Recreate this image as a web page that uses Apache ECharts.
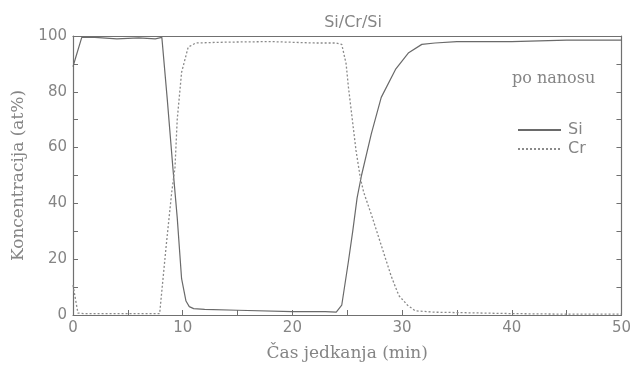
<!DOCTYPE html>
<html><head><meta charset="utf-8">
<script src="https://cdn.jsdelivr.net/npm/echarts@6/dist/echarts.min.js"></script>
<style>html,body{margin:0;padding:0;background:#fff}#c{width:634px;height:367px}</style>
</head><body><div id="c"></div>
<script>
const siTime = [0, 0.3, 0.8, 2, 4, 6, 7.5, 8.1, 8.6, 9.1, 9.5, 9.9, 10.3, 10.6, 11, 12, 15, 20, 23, 24, 24.5, 25.1, 25.5, 25.9, 26.3, 27.2, 28.1, 29.4, 30.6, 31.8, 33, 35, 40, 45, 50];
const siValue = [89, 93, 99.5, 99.5, 99, 99.3, 99, 99.5, 77, 53, 35, 13, 5, 3, 2.3, 2, 1.7, 1.2, 1.2, 1, 3.5, 19, 30, 42, 50, 65, 78, 88, 94, 97, 97.5, 98, 98, 98.5, 98.5];
const crTime = [0, 0.45, 1, 4, 7.9, 8.5, 9.0, 9.3, 9.5, 9.9, 10.5, 11.2, 14, 18, 22, 24, 24.5, 24.9, 25.1, 25.8, 26.2, 26.5, 27.2, 28.1, 29, 29.7, 30.5, 31.2, 33, 36, 40, 45, 50];
const crValue = [10.7, 0.7, 0.5, 0.5, 0.5, 25, 44, 53, 70, 87, 96, 97.5, 97.8, 98, 97.5, 97.5, 97, 90, 82, 59, 49, 44, 36, 25, 14, 7, 3.5, 1.5, 1, 0.8, 0.5, 0.3, 0.3];
const xTicks = [0, 10, 20, 30, 40, 50];
const yTicks = [0, 20, 40, 60, 80, 100];

const chart = echarts.init(document.getElementById('c'));
const gray = '#707070';
const textGray = '#858585';
function line() { return {show: true, onZero: false, lineStyle: {color: gray, width: 1.2}}; }
function tick(show) { return {show: show, inside: true, length: 5, lineStyle: {color: gray, width: 1}}; }
chart.setOption({
  animation: false,
  title: {text: 'Si/Cr/Si', left: 348, top: 10, textAlign: 'center',
    textStyle: {fontFamily: 'DejaVu Sans', fontSize: 16, fontWeight: 'normal', color: textGray}},
  grid: {left: 73, right: 10, top: 36, bottom: 50},
  legend: {left: 512, top: 117, orient: 'vertical', itemWidth: 43, itemHeight: 10, itemGap: 3,
    data: ['Si', 'Cr'], itemStyle: {opacity: 0},
    textStyle: {fontFamily: 'DejaVu Sans', fontSize: 16, color: textGray, padding: [0, 0, 0, 2]}},
  graphic: [{type: 'text', left: 512, top: 71,
    style: {text: 'po nanosu', font: '16px "DejaVu Serif"', fill: textGray}}],
  xAxis: [
    {type: 'value', min: 0, max: 50, interval: 5, position: 'bottom',
      name: 'Čas jedkanja (min)', nameLocation: 'middle', nameGap: 30,
      nameTextStyle: {fontFamily: 'DejaVu Serif', fontSize: 17, color: textGray},
      axisLine: line(), axisTick: tick(true), splitLine: {show: false},
      axisLabel: {fontFamily: 'DejaVu Sans', fontSize: 15, color: textGray, margin: 6,
        formatter: v => xTicks.includes(v) ? String(v) : ''}},
    {type: 'value', min: 0, max: 50, interval: 10, position: 'top',
      axisLine: line(), axisTick: tick(false), splitLine: {show: false}, axisLabel: {show: false}}
  ],
  yAxis: [
    {type: 'value', min: 0, max: 100, interval: 10, position: 'left',
      name: 'Koncentracija (at%)', nameLocation: 'middle', nameGap: 44,
      nameTextStyle: {fontFamily: 'DejaVu Serif', fontSize: 17, color: textGray},
      axisLine: line(), axisTick: tick(true), splitLine: {show: false},
      axisLabel: {fontFamily: 'DejaVu Sans', fontSize: 15, color: textGray, margin: 6,
        formatter: v => yTicks.includes(v) ? String(v) : ''}},
    {type: 'value', min: 0, max: 100, interval: 10, position: 'right',
      axisLine: line(), axisTick: tick(true), splitLine: {show: false}, axisLabel: {show: false}}
  ],
  series: [
    {name: 'Si', type: 'line', symbol: 'none', data: siTime.map((t, i) => [t, siValue[i]]),
      lineStyle: {color: '#6a6a6a', width: 1.2}, itemStyle: {color: '#6a6a6a'}},
    {name: 'Cr', type: 'line', symbol: 'none', data: crTime.map((t, i) => [t, crValue[i]]),
      lineStyle: {color: '#8a8a8a', width: 1.3, type: [2, 2]}, itemStyle: {color: '#8a8a8a'}}
  ]
});
</script></body></html>
